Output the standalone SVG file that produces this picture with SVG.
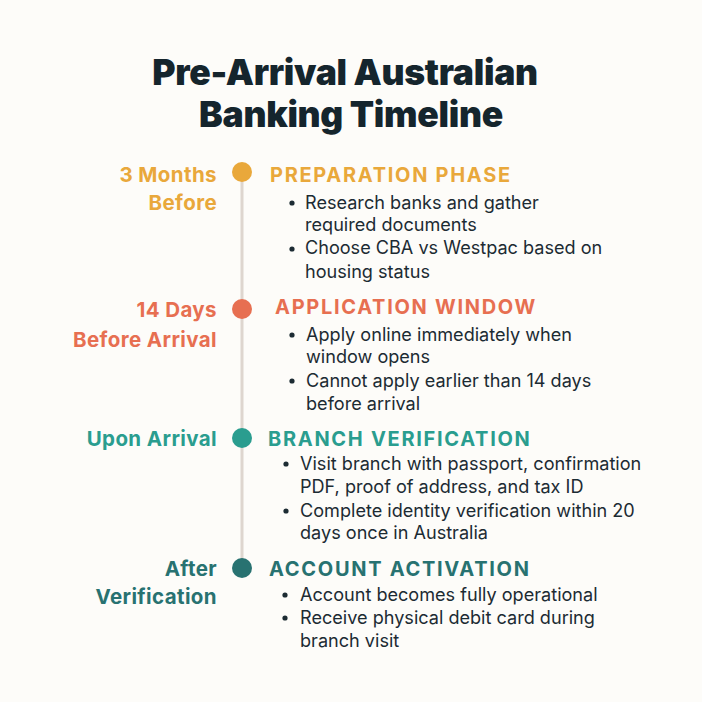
<svg xmlns="http://www.w3.org/2000/svg" width="702" height="702" viewBox="0 0 702 702">
<style>
.title{font-family:Inter,"Noto Sans",sans-serif;font-weight:900;font-size:35.5px;fill:#15252D;text-anchor:middle;letter-spacing:-0.3px}
.when{font-family:Inter,"Noto Sans",sans-serif;font-weight:700;font-size:20.5px;text-anchor:end;letter-spacing:0.4px}
.head{font-family:Inter,"Noto Sans",sans-serif;font-weight:700;font-size:20px;letter-spacing:1.7px}
.body{font-family:Inter,"Noto Sans",sans-serif;font-weight:400;font-size:18.1px;fill:#1C2B33}
.dot{fill:#1C2B33}
.c1{fill:#E9A83B}.c2{fill:#E76F51}.c3{fill:#2A9D8F}.c4{fill:#287271}
</style>
<rect width="702" height="702" fill="#FDFCF9"/>
<text class="title" x="345" y="85">Pre-Arrival Australian</text>
<text class="title" x="351" y="127">Banking Timeline</text>
<g id="connectors">
<line x1="242" y1="172" x2="242" y2="568" stroke="#DED6CF" stroke-width="3"/>
</g>
<g id="node-preparation">
<circle class="c1" cx="242" cy="172" r="10"/>
<text class="when c1" x="217" y="182">3 Months</text>
<text class="when c1" x="217" y="210">Before</text>
<text class="head c1" x="270" y="182">PREPARATION PHASE</text>
<circle class="dot" cx="292" cy="203" r="2.6"/>
<text class="body" x="305" y="209">Research banks and gather</text>
<text class="body" x="305" y="231">required documents</text>
<circle class="dot" cx="292" cy="249" r="2.6"/>
<text class="body" x="305" y="254">Choose CBA vs Westpac based on</text>
<text class="body" x="305" y="278">housing status</text>
</g>
<g id="node-application">
<circle class="c2" cx="242" cy="309" r="10"/>
<text class="when c2" x="217" y="317">14 Days</text>
<text class="when c2" x="217" y="347">Before Arrival</text>
<text class="head c2" x="275" y="314">APPLICATION WINDOW</text>
<circle class="dot" cx="292" cy="335" r="2.6"/>
<text class="body" x="306" y="341">Apply online immediately when</text>
<text class="body" x="306" y="363">window opens</text>
<circle class="dot" cx="292" cy="381" r="2.6"/>
<text class="body" x="306" y="387">Cannot apply earlier than 14 days</text>
<text class="body" x="306" y="410">before arrival</text>
</g>
<g id="node-branch">
<circle class="c3" cx="242" cy="438" r="10"/>
<text class="when c3" x="217" y="446">Upon Arrival</text>
<text class="head c3" x="268" y="446">BRANCH VERIFICATION</text>
<circle class="dot" cx="286" cy="464" r="2.6"/>
<text class="body" x="300" y="470">Visit branch with passport, confirmation</text>
<text class="body" x="300" y="493">PDF, proof of address, and tax ID</text>
<circle class="dot" cx="286" cy="511" r="2.6"/>
<text class="body" x="300" y="517">Complete identity verification within 20</text>
<text class="body" x="300" y="539">days once in Australia</text>
</g>
<g id="node-account">
<circle class="c4" cx="242" cy="568" r="10"/>
<text class="when c4" x="217" y="576">After</text>
<text class="when c4" x="217" y="604">Verification</text>
<text class="head c4" x="269" y="576">ACCOUNT ACTIVATION</text>
<circle class="dot" cx="285" cy="595" r="2.6"/>
<text class="body" x="300" y="601">Account becomes fully operational</text>
<circle class="dot" cx="285" cy="618" r="2.6"/>
<text class="body" x="300" y="624">Receive physical debit card during</text>
<text class="body" x="300" y="647">branch visit</text>
</g>
</svg>
